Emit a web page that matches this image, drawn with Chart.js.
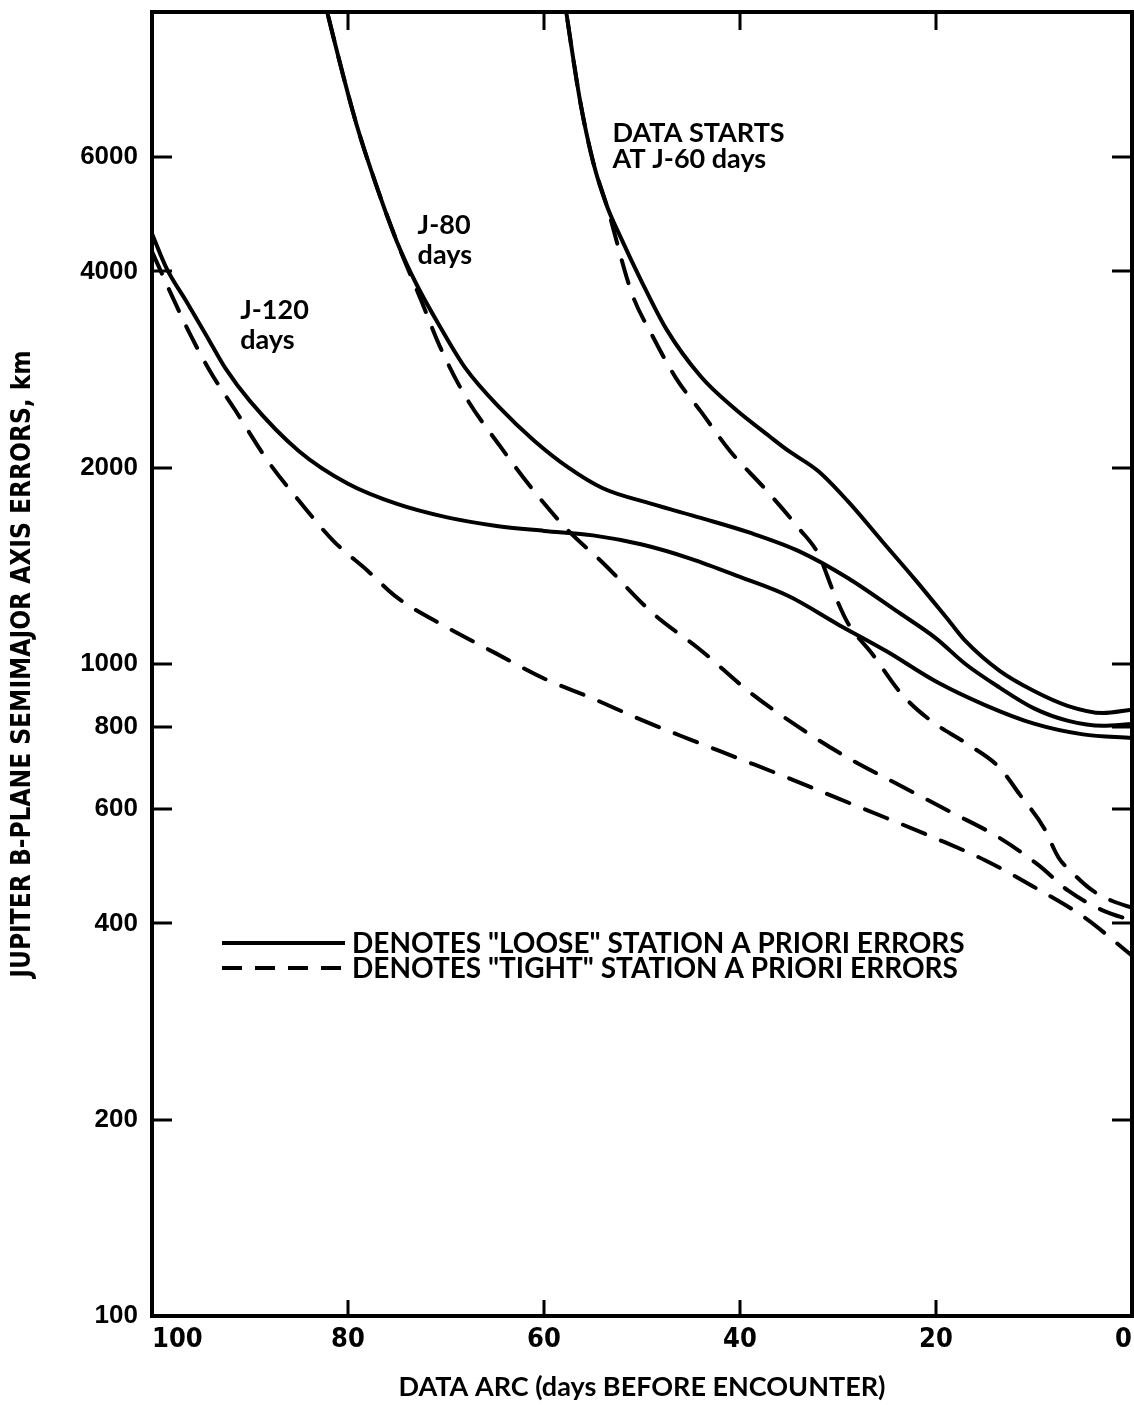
<!DOCTYPE html>
<html>
<head>
<meta charset="utf-8">
<title>Jupiter B-plane semimajor axis errors</title>
<script src="https://cdn.jsdelivr.net/npm/chart.js@4.4.1/dist/chart.umd.min.js"></script>
<style>
  html, body { margin: 0; padding: 0; background: #fff; }
  #wrap { position: relative; width: 1134px; height: 1405px; }
</style>
</head>
<body>
<div id="wrap"><canvas id="chart" width="1134" height="1405"></canvas></div>
<script>
// x = days before encounter, y = B-plane semimajor axis error (km)
const j120LooseDays = [100, 98.5, 96.5, 94.5, 92.5, 90, 85, 80, 75, 70, 65, 60, 55, 50, 45, 40, 35, 30, 25, 20, 15, 10, 5, 0];
const j120LooseKm   = [4570, 4040, 3600, 3200, 2840, 2530, 2120, 1890, 1760, 1680, 1630, 1600, 1575, 1525, 1450, 1360, 1270, 1150, 1045, 940, 865, 810, 780, 770];

const j120TightDays = [100, 98, 96, 94, 91.5, 88, 85, 81.5, 78, 75, 70, 65, 60, 55, 50, 45, 40, 35, 30, 25, 20, 15, 10, 5, 0];
const j120TightKm   = [4290, 3680, 3180, 2800, 2450, 2030, 1780, 1545, 1390, 1265, 1140, 1040, 950, 885, 820, 765, 715, 668, 622, 580, 540, 500, 455, 410, 357];

const j80LooseDays = [83, 80.5, 79, 77, 75, 73, 70.5, 68, 64.5, 61, 57.5, 54, 49, 44, 39, 34, 29, 24, 20, 17, 13.5, 10, 6.5, 3, 0];
const j80LooseKm   = [11300, 8000, 6620, 5360, 4440, 3820, 3270, 2840, 2470, 2200, 2000, 1860, 1760, 1675, 1590, 1490, 1355, 1205, 1095, 1000, 920, 855, 818, 804, 809];

const j80TightDays = [83, 80.5, 79, 77, 75, 72.5, 70.5, 68, 64.5, 61, 57.5, 54, 49, 44, 39, 34, 29, 24, 18.5, 13.5, 9.5, 6.5, 3, 0];
const j80TightKm   = [11300, 8000, 6620, 5360, 4440, 3600, 3040, 2570, 2160, 1840, 1600, 1430, 1200, 1050, 905, 800, 718, 655, 593, 541, 491, 449, 419, 404];

const j60LooseDays = [58.2, 57.7, 56.3, 55, 53.6, 52.2, 50, 47.5, 44, 40.5, 37, 35, 32, 29, 25.5, 22, 18.5, 17, 13.5, 10, 6.5, 3, 0];
const j60LooseKm   = [11200, 9930, 7280, 5900, 5050, 4520, 3850, 3260, 2760, 2460, 2235, 2120, 1975, 1777, 1543, 1340, 1156, 1085, 976, 909, 862, 841, 851];

const j60TightDays = [58.2, 57.7, 56.3, 55, 53.6, 51, 49, 46.5, 44, 41, 37.5, 34, 32, 30.5, 29, 26.5, 23.5, 20.5, 17, 13.5, 11.5, 9, 7.5, 6, 4, 2, 0];
const j60TightKm   = [11200, 9930, 7280, 5900, 5050, 3690, 3200, 2740, 2440, 2120, 1860, 1615, 1474, 1294, 1156, 1036, 899, 818, 757, 693, 632, 561, 505, 477, 449, 433, 423];

const xTickValues = [0, 20, 40, 60, 80, 100];
const yTickValues = [100, 200, 400, 600, 800, 1000, 2000, 4000, 6000];

// curve captions, anchored at their top-left corner (day, km)
const curveNotes = [
    { lines: ['J-120', 'days'], day: 91, km: 3660, step: 30 },
    { lines: ['J-80', 'days'], day: 72.9, km: 4940, step: 30 },
    { lines: ['DATA STARTS', 'AT J-60 days'], day: 53, km: 6830, step: 26 }
];

const legendItems = [
    { text: 'DENOTES "LOOSE" STATION A PRIORI ERRORS', dash: [] },
    { text: 'DENOTES "TIGHT" STATION A PRIORI ERRORS', dash: [20, 13] }
];

const TEXT_FONT = 'Lato, "DejaVu Sans", sans-serif';
const DASH = [24, 17];

function toPoints(days, km) {
    return days.map((d, i) => ({ x: d, y: km[i] }));
}

function curve(days, km, tight) {
    return {
        data: toPoints(days, km),
        borderColor: '#000',
        borderWidth: 4,
        borderDash: tight ? DASH : [],
        borderCapStyle: 'round',
        pointRadius: 0,
        fill: false,
        cubicInterpolationMode: 'monotone',
        clip: 0
    };
}

// Frame round the plot with inward tick marks on all four sides
const frameTicks = {
    id: 'frameTicks',
    afterDraw(chart) {
        const { ctx, chartArea: a, scales: { x, y } } = chart;
        ctx.save();
        ctx.strokeStyle = '#000';
        ctx.lineWidth = 3;
        ctx.beginPath();
        yTickValues.forEach(v => {
            const py = Math.round(y.getPixelForValue(v));
            ctx.moveTo(a.left, py); ctx.lineTo(a.left + 20, py);
            ctx.moveTo(a.right, py); ctx.lineTo(a.right - 20, py);
        });
        xTickValues.filter(v => v > 0 && v < 100).forEach(v => {
            const px = Math.round(x.getPixelForValue(v));
            ctx.moveTo(px, a.top); ctx.lineTo(px, a.top + 18);
            ctx.moveTo(px, a.bottom); ctx.lineTo(px, a.bottom - 16);
        });
        ctx.stroke();
        ctx.lineWidth = 4;
        ctx.strokeRect(a.left, a.top, a.right - a.left, a.bottom - a.top);
        ctx.restore();
    }
};

// Curve captions and the line-style key inside the plot
const notes = {
    id: 'notes',
    afterDraw(chart) {
        const { ctx, chartArea: a, scales: { x, y } } = chart;
        ctx.save();
        ctx.fillStyle = '#000';
        ctx.textAlign = 'left';
        ctx.textBaseline = 'top';
        ctx.font = 'bold 27px ' + TEXT_FONT;
        curveNotes.forEach(n => {
            const px = x.getPixelForValue(n.day);
            const py = y.getPixelForValue(n.km);
            n.lines.forEach((t, i) => ctx.fillText(t, px, py + i * n.step));
        });

        const left = a.left + 70, lineLen = 123, rowY = 943, rowGap = 25;
        ctx.font = 'bold 28px ' + TEXT_FONT;
        ctx.textBaseline = 'middle';
        ctx.strokeStyle = '#000';
        ctx.lineWidth = 4;
        legendItems.forEach((item, i) => {
            const ly = rowY + i * rowGap;
            ctx.setLineDash(item.dash);
            ctx.beginPath();
            ctx.moveTo(left, ly);
            ctx.lineTo(left + lineLen, ly);
            ctx.stroke();
            ctx.fillText(item.text, left + lineLen + 7, ly + 1);
        });
        ctx.restore();
    }
};

new Chart(document.getElementById('chart'), {
    type: 'line',
    data: {
        datasets: [
            curve(j120LooseDays, j120LooseKm, false),
            curve(j120TightDays, j120TightKm, true),
            curve(j80LooseDays, j80LooseKm, false),
            curve(j80TightDays, j80TightKm, true),
            curve(j60LooseDays, j60LooseKm, false),
            curve(j60TightDays, j60TightKm, true)
        ]
    },
    options: {
        responsive: false,
        devicePixelRatio: 1,
        animation: false,
        layout: { padding: { top: 12, right: 2, bottom: 0, left: 0 } },
        plugins: { legend: { display: false }, tooltip: { enabled: false } },
        scales: {
            x: {
                type: 'linear',
                reverse: true,
                min: 0,
                max: 100,
                afterBuildTicks: s => { s.ticks = xTickValues.map(v => ({ value: v })); },
                afterFit: s => { s.height = 89; s.paddingLeft = 0; s.paddingRight = 0; },
                grid: { display: false, drawTicks: false },
                border: { display: false },
                ticks: {
                    color: '#000',
                    padding: 8,
                    align: 'inner',
                    maxRotation: 0,
                    autoSkip: false,
                    font: { family: '"DejaVu Sans Condensed", sans-serif', size: 27, weight: 'bold' }
                },
                title: {
                    display: true,
                    text: 'DATA ARC (days BEFORE ENCOUNTER)',
                    color: '#000',
                    padding: { top: 0, bottom: 2 },
                    font: { family: TEXT_FONT, size: 27, weight: 'bold' }
                }
            },
            y: {
                type: 'logarithmic',
                min: 100,
                max: 10000,
                afterBuildTicks: s => { s.ticks = yTickValues.map(v => ({ value: v })); },
                afterFit: s => { s.width = 152; s.paddingTop = 0; s.paddingBottom = 0; },
                grid: { display: false, drawTicks: false },
                border: { display: false },
                ticks: {
                    color: '#000',
                    padding: 14,
                    autoSkip: false,
                    callback: v => String(v),
                    font: { family: '"Liberation Sans", Arial, sans-serif', size: 26, weight: 'bold' }
                },
                title: {
                    display: true,
                    text: 'JUPITER B-PLANE SEMIMAJOR AXIS ERRORS, km',
                    color: '#000',
                    padding: { top: 8, bottom: 0 },
                    font: { family: '"DejaVu Sans Condensed", sans-serif', size: 26, weight: 'bold' }
                }
            }
        }
    },
    plugins: [frameTicks, notes]
});
</script>
</body>
</html>
